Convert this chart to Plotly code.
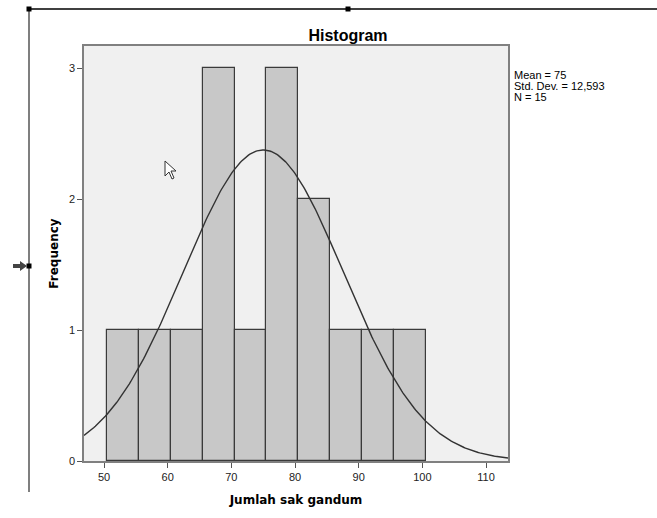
import numpy as np
import plotly.graph_objects as go

# Data
bin_centers = [53, 58, 63, 68, 73, 78, 83, 88, 93, 98]
frequencies = [1, 1, 1, 3, 1, 3, 2, 1, 1, 1]
bin_width = 5
mean = 75
std_dev = 12.593
n = 15
x_ticks = [50, 60, 70, 80, 90, 100, 110]
y_ticks = [0, 1, 2, 3]
x_range = [46.85, 113.45]
y_range = [0, 3.17]
stats_lines = [f"Mean = {mean}", f"Std. Dev. = {str(std_dev).replace('.', ',')}", f"N = {n}"]

W, H = 657, 518
L, R, T, B = 84, 508, 46, 461

fig = go.Figure()
fig.add_trace(go.Bar(
    x=bin_centers, y=frequencies, width=bin_width,
    marker=dict(color="#c8c8c8", line=dict(color="#3a3a3a", width=1.2)),
    hoverinfo="skip", showlegend=False,
))

xs = np.linspace(x_range[0], x_range[1], 300)
ys = n * bin_width / (std_dev * np.sqrt(2 * np.pi)) * np.exp(-0.5 * ((xs - mean) / std_dev) ** 2)
fig.add_trace(go.Scatter(x=xs, y=ys, mode="lines",
                         line=dict(color="#333333", width=1.4),
                         hoverinfo="skip", showlegend=False))

def px(x):
    return (x - L) / (R - L)

def py(y):
    return (B - y) / (B - T)

shapes = [
    dict(type="line", xref="paper", yref="paper", x0=px(29), x1=px(657), y0=py(9), y1=py(9),
         line=dict(color="#000000", width=1.5)),
    dict(type="line", xref="paper", yref="paper", x0=px(29), x1=px(29), y0=py(9), y1=py(492),
         line=dict(color="#555555", width=1.5)),
]
for hx, hy in [(29, 9), (348, 9), (29, 266)]:
    shapes.append(dict(type="rect", xref="paper", yref="paper",
                       x0=px(hx - 2.5), x1=px(hx + 2.5), y0=py(hy + 2.5), y1=py(hy - 2.5),
                       fillcolor="#000000", line=dict(width=0)))
# arrow pointer at left handle
shapes.append(dict(type="path", xref="paper", yref="paper",
                   path=(f"M {px(13)} {py(264)} L {px(20)} {py(264)} L {px(20)} {py(261)} "
                         f"L {px(27)} {py(266)} L {px(20)} {py(271)} L {px(20)} {py(268)} "
                         f"L {px(13)} {py(268)} Z"),
                   fillcolor="#444444", line=dict(width=0)))
# mouse cursor
cx, cy = 165, 161
shapes.append(dict(type="path", xref="paper", yref="paper",
                   path=(f"M {px(cx)} {py(cy)} L {px(cx)} {py(cy+15)} L {px(cx+4)} {py(cy+11)} "
                         f"L {px(cx+7)} {py(cy+18)} L {px(cx+9)} {py(cy+17)} L {px(cx+6)} {py(cy+10)} "
                         f"L {px(cx+11)} {py(cy+10)} Z"),
                   fillcolor="#ffffff", line=dict(color="#333333", width=1)))

annotations = []
for i, line in enumerate(stats_lines):
    annotations.append(dict(xref="paper", yref="paper", x=px(512), y=py(75 + 11 * i),
                            xanchor="left", yanchor="middle", align="left", showarrow=False,
                            text=line, font=dict(size=11)))

fig.update_layout(
    width=W, height=H,
    margin=dict(l=L, r=W - R, t=T, b=H - B),
    paper_bgcolor="#ffffff", plot_bgcolor="#f0f0f0",
    bargap=0,
    font=dict(family="Liberation Sans, Arial, sans-serif", color="#000000"),
    title=dict(text="<b>Histogram</b>", xref="container", x=348 / W, xanchor="center",
               yref="container", y=1 - 35 / H, yanchor="middle",
               font=dict(size=16)),
    xaxis=dict(range=x_range, tickvals=x_ticks, ticks="outside", ticklen=5,
               tickcolor="#555555", showgrid=False, zeroline=False,
               showline=True, linecolor="#808080", linewidth=1.5, mirror=True,
               tickfont=dict(size=11, color="#222222"),
               title=dict(text="<b>Jumlah sak gandum</b>",
                          font=dict(size=12, family="DejaVu Sans, Verdana, sans-serif"),
                          standoff=14)),
    yaxis=dict(range=y_range, tickvals=y_ticks, ticks="outside", ticklen=5,
               tickcolor="#555555", showgrid=False, zeroline=False,
               showline=True, linecolor="#808080", linewidth=1.5, mirror=True,
               tickfont=dict(size=11, color="#222222"),
               title=dict(text="<b>Frequency</b>",
                          font=dict(size=12, family="DejaVu Sans, Verdana, sans-serif"),
                          standoff=8)),
    shapes=shapes,
    annotations=annotations,
)

fig.write_html("out.html", config={"displayModeBar": False},
               post_script="document.body.style.margin='0';document.body.style.overflow='hidden';")
